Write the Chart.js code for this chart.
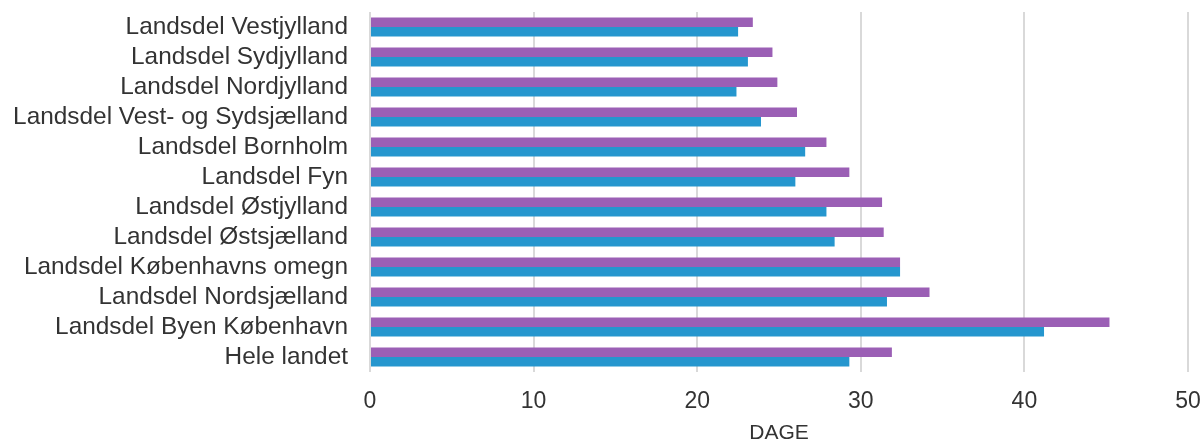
<!DOCTYPE html>
<html>
<head>
<meta charset="utf-8">
<script src="https://cdn.jsdelivr.net/npm/chart.js@4"></script>
<style>
  html, body { margin: 0; padding: 0; background: #fff; }
  #wrap { width: 1203px; height: 446px; }
</style>
</head>
<body>
<div id="wrap"><canvas id="myChart"></canvas></div>
<script>
const categories = [
  'Landsdel Vestjylland',
  'Landsdel Sydjylland',
  'Landsdel Nordjylland',
  'Landsdel Vest- og Sydsjælland',
  'Landsdel Bornholm',
  'Landsdel Fyn',
  'Landsdel Østjylland',
  'Landsdel Østsjælland',
  'Landsdel Københavns omegn',
  'Landsdel Nordsjælland',
  'Landsdel Byen København',
  'Hele landet',
];
const purpleValues = [23.4, 24.6, 24.9, 26.1, 27.9, 29.3, 31.3, 31.4, 32.4, 34.2, 45.2, 31.9];
const blueValues = [22.5, 23.1, 22.4, 23.9, 26.6, 26.0, 27.9, 28.4, 32.4, 31.6, 41.2, 29.3];
const xTicks = [0, 10, 20, 30, 40, 50];

const ctx = document.getElementById('myChart');
const font = 'Liberation Sans, Arial, sans-serif';

new Chart(ctx, {
  type: 'bar',
  data: {
    labels: categories,
    datasets: [
      {
        label: 'Serie 1',
        data: purpleValues,
        backgroundColor: '#9b5fb5',
        categoryPercentage: 0.64,
        barPercentage: 1.0,
      },
      {
        label: 'Serie 2',
        data: blueValues,
        backgroundColor: '#2596ce',
        categoryPercentage: 0.64,
        barPercentage: 1.0,
      },
    ],
  },
  options: {
    indexAxis: 'y',
    responsive: true,
    maintainAspectRatio: false,
    animation: false,
    layout: { padding: { top: 12, right: 0, left: 0, bottom: 0 } },
    plugins: {
      legend: { display: false },
      tooltip: { enabled: false },
    },
    scales: {
      x: {
        min: 0,
        max: 50,
        afterBuildTicks: (axis) => { axis.ticks = xTicks.map(v => ({ value: v })); },
        afterFit: (axis) => {
          axis.height = 74;
          axis.paddingRight = 15;
        },
        grid: { color: '#d9d9d9', lineWidth: 2, drawTicks: false },
        border: { display: false },
        ticks: {
          color: '#333',
          padding: 16,
          font: { family: font, size: 23 },
        },
        title: {
          display: true,
          text: 'DAGE',
          color: '#333',
          padding: { top: 0, bottom: 0 },
          font: { family: font, size: 21 },
        },
      },
      y: {
        afterFit: (axis) => {
          axis.width = 370;
          axis.paddingTop = 0;
          axis.paddingBottom = 0;
        },
        grid: { display: false },
        border: { display: false },
        ticks: {
          autoSkip: false,
          color: '#333',
          padding: 14,
          font: { family: font, size: 24.4 },
        },
      },
    },
  },
});
</script>
</body>
</html>
